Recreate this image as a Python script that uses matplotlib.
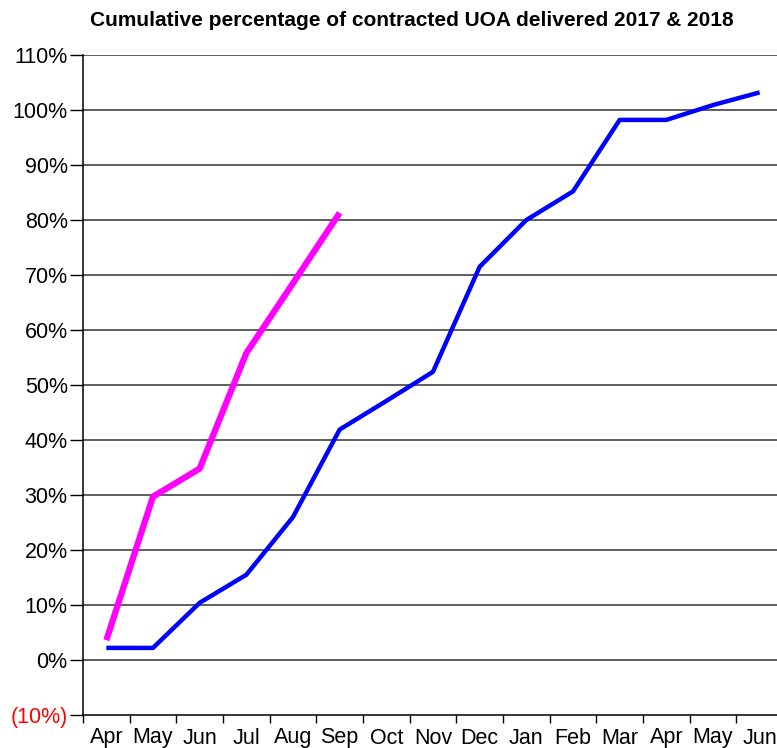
import matplotlib
matplotlib.use("Agg")
import matplotlib.pyplot as plt
from matplotlib.ticker import FixedLocator, FuncFormatter

months = ["Apr", "May", "Jun", "Jul", "Aug", "Sep", "Oct", "Nov", "Dec",
          "Jan", "Feb", "Mar", "Apr", "May", "Jun"]
series_2017 = [2.2, 2.2, 10.4, 15.5, 26.0, 41.9, 47.1, 52.4, 71.5, 80.0,
               85.2, 98.2, 98.2, 100.9, 103.2]
series_2018 = [3.6, 29.7, 34.8, 55.8, 68.5, 81.3]
y_ticks = list(range(-10, 111, 10))

plt.rcParams['font.family'] = ['Liberation Sans', 'DejaVu Sans']

fig = plt.figure(figsize=(7.77, 7.48), dpi=100)
ax = fig.add_axes([83/777, 33/748, 700/777, 660/748])

x17 = list(range(len(series_2017)))
x18 = list(range(len(series_2018)))
ax.plot(x17, series_2017, color="#0000FF", lw=3.2, solid_capstyle="butt", zorder=3)
ax.plot(x18, series_2018, color="#FF00FF", lw=4.5, solid_capstyle="butt", zorder=4)

ax.set_xlim(-0.5, len(months) - 0.5)
ax.set_ylim(-10, 110)

ax.set_yticks(y_ticks)
def fmt(v, pos):
    v = int(round(v))
    return f"({abs(v)}%)" if v < 0 else f"{v}%"
ax.yaxis.set_major_formatter(FuncFormatter(fmt))
ax.tick_params(axis="y", direction="out", length=9.5, width=1, pad=1.5,
               labelsize=15.5, colors="black")
for lab in ax.get_yticklabels():
    if lab.get_text().startswith("("):
        lab.set_color("red")

ax.set_xticks(x17)
ax.set_xticklabels(months)
ax.xaxis.set_minor_locator(FixedLocator([i - 0.5 for i in range(len(months) + 1)]))
ax.tick_params(axis="x", which="major", length=0, pad=9, labelsize=15.5)
ax.tick_params(axis="x", which="minor", direction="out", length=5.5, width=1)

for v in y_ticks[1:]:
    ax.axhline(v, color="#333333", lw=1.1, zorder=1)

ax.spines["top"].set_visible(False)
ax.spines["right"].set_visible(False)
ax.spines["left"].set_linewidth(1.1)
ax.spines["bottom"].set_linewidth(1.1)

fig.text(412/777, 1 - 20/748, "Cumulative percentage of contracted UOA delivered 2017 & 2018",
         ha="center", va="center", fontsize=15, fontweight="bold")

fig.savefig("out.png", dpi=100)
